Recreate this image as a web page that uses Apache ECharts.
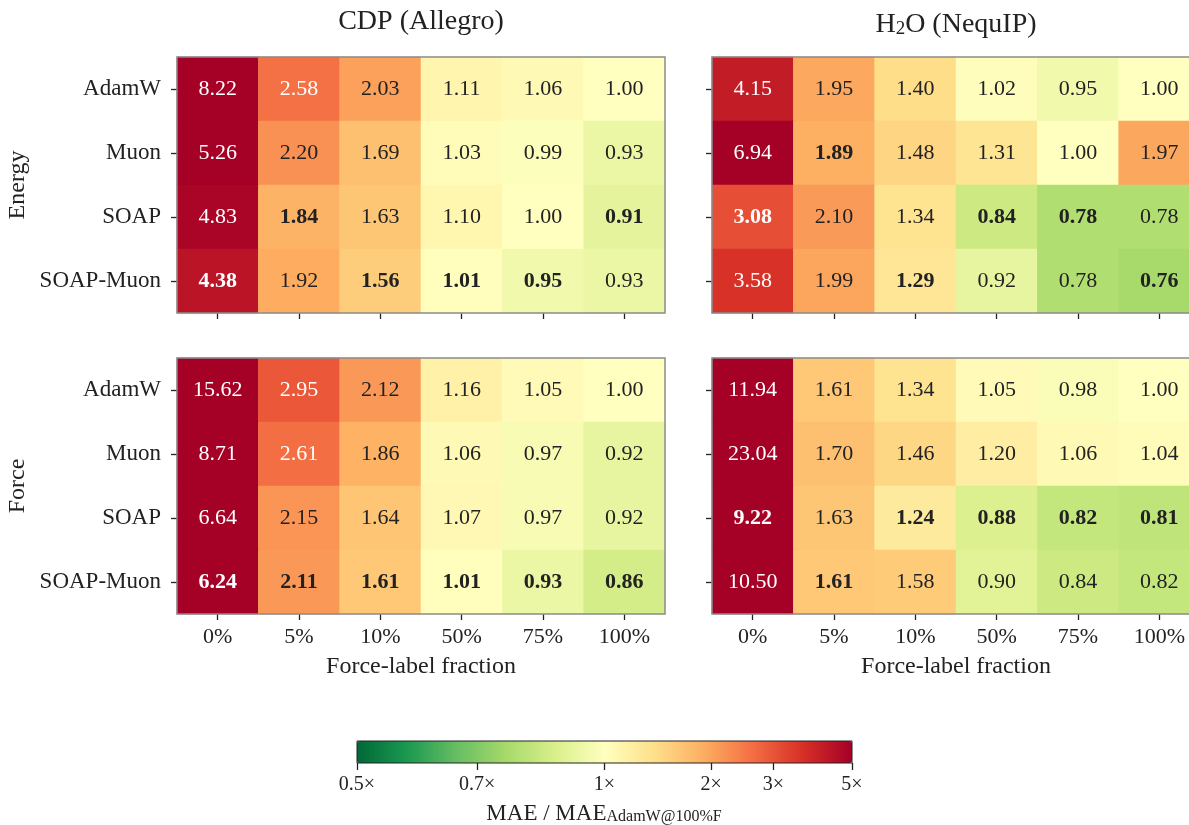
<!DOCTYPE html>
<html>
<head>
<meta charset="utf-8">
<script src="https://cdn.jsdelivr.net/npm/echarts@6/dist/echarts.min.js"></script>
<style>html,body{margin:0;padding:0;background:#fff;}#c{width:1189px;height:825px;}</style>
</head>
<body>
<div id="c"></div>
<script>
// ---- data ----
const cols = ['0%', '5%', '10%', '50%', '75%', '100%'];
const rows = ['AdamW', 'Muon', 'SOAP', 'SOAP-Muon'];

const cdpEnergy = [
  [8.22, 2.58, 2.03, 1.11, 1.06, 1.00],
  [5.26, 2.20, 1.69, 1.03, 0.99, 0.93],
  [4.83, 1.84, 1.63, 1.10, 1.00, 0.91],
  [4.38, 1.92, 1.56, 1.01, 0.95, 0.93]
];
const h2oEnergy = [
  [4.15, 1.95, 1.40, 1.02, 0.95, 1.00],
  [6.94, 1.89, 1.48, 1.31, 1.00, 1.97],
  [3.08, 2.10, 1.34, 0.84, 0.78, 0.78],
  [3.58, 1.99, 1.29, 0.92, 0.78, 0.76]
];
const cdpForce = [
  [15.62, 2.95, 2.12, 1.16, 1.05, 1.00],
  [8.71, 2.61, 1.86, 1.06, 0.97, 0.92],
  [6.64, 2.15, 1.64, 1.07, 0.97, 0.92],
  [6.24, 2.11, 1.61, 1.01, 0.93, 0.86]
];
const h2oForce = [
  [11.94, 1.61, 1.34, 1.05, 0.98, 1.00],
  [23.04, 1.70, 1.46, 1.20, 1.06, 1.04],
  [9.22, 1.63, 1.24, 0.88, 0.82, 0.81],
  [10.50, 1.61, 1.58, 0.90, 0.84, 0.82]
];
// bold cells as [row, col]
const cdpEnergyBold = [[2, 1], [2, 5], [3, 0], [3, 2], [3, 3], [3, 4]];
const h2oEnergyBold = [[1, 1], [2, 0], [2, 3], [2, 4], [3, 2], [3, 5]];
const cdpForceBold = [[3, 0], [3, 1], [3, 2], [3, 3], [3, 4], [3, 5]];
const h2oForceBold = [[2, 0], [2, 2], [2, 3], [2, 4], [2, 5], [3, 1]];

const cbTicks = [0.5, 0.7, 1, 2, 3, 5];
const cbTickLabels = ['0.5×', '0.7×', '1×', '2×', '3×', '5×'];

const rdylgnR = ['#006837', '#1a9850', '#66bd63', '#a6d96a', '#d9ef8b', '#ffffbf',
                 '#fee08b', '#fdae61', '#f46d43', '#d73027', '#a50026'];

// ---- helpers ----
const FONT = '"Liberation Serif", "Times New Roman", serif';
const TXT = '#222';
function norm(v) {
  if (v >= 1) return Math.min(1, 0.5 + 0.5 * Math.log(v) / Math.log(5));
  return Math.max(0, 0.5 - 0.5 * Math.log(v) / Math.log(0.5));
}
function buildData(mat, bold) {
  const out = [];
  mat.forEach((row, r) => row.forEach((v, c) => {
    const t = norm(v);
    const isBold = bold.some(b => b[0] === r && b[1] === c);
    out.push({
      value: [c, r, t, v],
      label: { color: t > 0.77 ? '#ffffff' : TXT, fontWeight: isBold ? 'bold' : 'normal' }
    });
  }));
  return out;
}

const panels = [
  { mat: cdpEnergy, bold: cdpEnergyBold, left: 177, top: 57, showY: true, showX: false },
  { mat: h2oEnergy, bold: h2oEnergyBold, left: 712, top: 57, showY: false, showX: false },
  { mat: cdpForce, bold: cdpForceBold, left: 177, top: 358, showY: true, showX: true },
  { mat: h2oForce, bold: h2oForceBold, left: 712, top: 358, showY: false, showX: true }
];

const grids = [], xAxes = [], yAxes = [], series = [];
panels.forEach((p, i) => {
  grids.push({ left: p.left, top: p.top, width: 488, height: 256, show: true,
    outerBoundsMode: 'none', containLabel: false,
    borderColor: '#8c8c8c', borderWidth: 1.5, backgroundColor: 'transparent', z: 10 });
  xAxes.push({
    type: 'category', gridIndex: i, data: cols, position: 'bottom',
    axisLine: { show: false },
    axisTick: { show: true, alignWithLabel: true, length: 6, lineStyle: { color: TXT, width: 1.3 } },
    axisLabel: { show: p.showX, margin: 12, color: TXT, fontFamily: FONT, fontSize: 22 },
    splitLine: { show: false },
    name: p.showX ? 'Force-label fraction' : '',
    nameLocation: 'middle', nameGap: 41,
    nameTextStyle: { color: TXT, fontFamily: FONT, fontSize: 24 }
  });
  yAxes.push({
    type: 'category', gridIndex: i, data: rows, inverse: true,
    axisLine: { show: false },
    axisTick: { show: true, alignWithLabel: true, length: 6, lineStyle: { color: TXT, width: 1.3 } },
    axisLabel: { show: p.showY, margin: 16, color: TXT, fontFamily: FONT, fontSize: 23 },
    splitLine: { show: false }
  });
  series.push({
    type: 'heatmap', xAxisIndex: i, yAxisIndex: i,
    data: buildData(p.mat, p.bold),
    label: { show: true, fontFamily: FONT, fontSize: 22,
      formatter: (q) => q.value[3].toFixed(2) },
    itemStyle: { borderWidth: 0 },
    emphasis: { disabled: true },
    progressive: 0
  });
});

// colorbar axis grid
grids.push({ left: 357, top: 741, width: 495, height: 22, show: true,
  outerBoundsMode: 'none', containLabel: false,
  borderColor: '#222', borderWidth: 1, backgroundColor: 'transparent', z: 10 });
xAxes.push({
  type: 'value', gridIndex: 4, min: 0, max: 1, position: 'bottom',
  axisLine: { show: false },
  splitLine: { show: false },
  axisTick: { show: true, length: 7, customValues: cbTicks.map(norm), lineStyle: { color: TXT, width: 1.3 } },
  axisLabel: { show: true, margin: 12, customValues: cbTicks.map(norm), color: TXT, fontFamily: FONT, fontSize: 20,
    formatter: (v) => {
      let best = 0;
      cbTicks.forEach((t, k) => { if (Math.abs(norm(t) - v) < Math.abs(norm(cbTicks[best]) - v)) best = k; });
      return cbTickLabels[best];
    } }
});
yAxes.push({ type: 'value', gridIndex: 4, show: false, min: 0, max: 1 });

const option = {
  animation: false,
  backgroundColor: '#ffffff',
  grid: grids,
  xAxis: xAxes,
  yAxis: yAxes,
  visualMap: {
    type: 'continuous', min: 0, max: 1, dimension: 2, seriesIndex: [0, 1, 2, 3],
    orient: 'horizontal', left: 357, top: 741, itemWidth: 22, itemHeight: 495,
    padding: 0, calculable: false, hoverLink: false, text: null, showLabel: false,
    inRange: { color: rdylgnR }
  },
  series: series,
  graphic: [
    { type: 'text', x: 421, y: 22, silent: true,
      style: { text: 'CDP (Allegro)', fontFamily: FONT, fontSize: 28, fill: TXT, align: 'center', verticalAlign: 'middle' } },
    { type: 'text', x: 956, y: 22, silent: true,
      style: { text: '{m|H}{s|2}{m|O (NequIP)}', align: 'center', verticalAlign: 'middle', fill: TXT,
        rich: { m: { fontFamily: FONT, fontSize: 28, lineHeight: 34, verticalAlign: 'bottom', fill: TXT },
                s: { fontFamily: FONT, fontSize: 19, lineHeight: 18, verticalAlign: 'bottom', fill: TXT } } } },
    { type: 'text', x: 18, y: 185, rotation: Math.PI / 2, silent: true,
      style: { text: 'Energy', fontFamily: FONT, fontSize: 24, fill: TXT, align: 'center', verticalAlign: 'middle' } },
    { type: 'text', x: 18, y: 486, rotation: Math.PI / 2, silent: true,
      style: { text: 'Force', fontFamily: FONT, fontSize: 24, fill: TXT, align: 'center', verticalAlign: 'middle' } },
    { type: 'text', x: 604, y: 810, silent: true,
      style: { text: '{m|MAE / MAE}{s|AdamW@100%F}', align: 'center', verticalAlign: 'middle', fill: TXT,
        rich: { m: { fontFamily: FONT, fontSize: 23, lineHeight: 30, verticalAlign: 'bottom', fill: TXT },
                s: { fontFamily: FONT, fontSize: 16, lineHeight: 14, verticalAlign: 'bottom', fill: TXT } } } }
  ]
};

const chart = echarts.init(document.getElementById('c'), null, { renderer: 'canvas' });
chart.setOption(option);
</script>
</body>
</html>
